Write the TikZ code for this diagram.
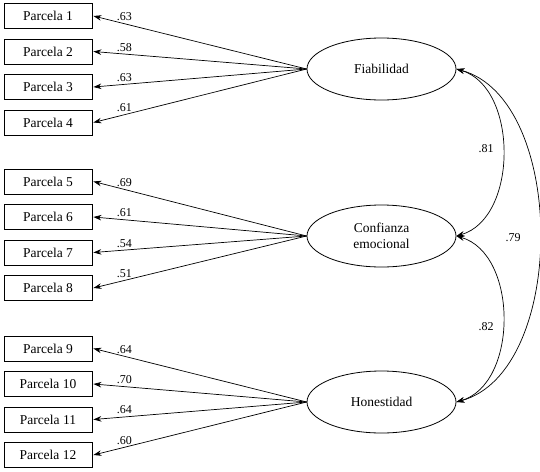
\documentclass[tikz,border=0pt]{standalone}
\usepackage{fontspec}
\setmainfont{Liberation Serif}
\usetikzlibrary{arrows.meta,shapes.geometric}
\begin{document}
\begin{tikzpicture}[x=1pt,y=-1pt,
  box/.style={draw,line width=0.8pt,minimum width=88pt,minimum height=25pt,inner sep=0pt,font=\fontsize{13.5}{15}\selectfont},
  lat/.style={draw,line width=0.8pt,ellipse,minimum width=149pt,minimum height=62pt,inner sep=0pt,align=center,font=\fontsize{13.5}{16}\selectfont},
  load/.style={line width=0.7pt,-{Stealth[length=8pt,width=5.5pt]}},
  cor/.style={line width=0.7pt,{Stealth[length=8pt,width=5.5pt]}-{Stealth[length=8pt,width=5.5pt]}},
  lab/.style={font=\fontsize{12}{13}\selectfont,inner sep=1pt}]
\useasboundingbox[fill=white] (0,0) rectangle (540,471);
% observed indicators
\foreach \i/\y in {1/16,2/51.5,3/87,4/122.5,5/181.5,6/217,7/252.5,8/288,9/348.5,10/384,11/419.5,12/455}
  \node[box] (P\i) at (48,\y) {Parcela \i};
% latent factors
\node[lat] (F) at (381.5,69) {Fiabilidad};
\node[lat] (C) at (381.5,236) {Confianza\\emocional};
\node[lat] (H) at (381.5,402) {Honestidad};
% loadings
\foreach \i/\v in {1/.63,2/.58,3/.63,4/.61}
  \draw[load] (F.west) -- node[lab,pos=0.855,above=1.5pt] {\v} ([xshift=1pt]P\i.east);
\foreach \i/\v in {5/.69,6/.61,7/.54,8/.51}
  \draw[load] (C.west) -- node[lab,pos=0.855,above=1.5pt] {\v} ([xshift=1pt]P\i.east);
\foreach \i/\v in {9/.64,10/.70,11/.64,12/.60}
  \draw[load] (H.west) -- node[lab,pos=0.855,above=1.5pt] {\v} ([xshift=1pt]P\i.east);
% correlations
\draw[cor] (F.east) .. controls +(62,18) and +(62,-18) .. (C.east);
\draw[cor] (C.east) .. controls +(62,18) and +(62,-18) .. (H.east);
\draw[cor] (F.east) .. controls +(111,30) and +(111,-30) .. (H.east);
\node[lab] (r1) at (486,149) {.81};
\node[lab] (r2) at (486,327) {.82};
\node[lab] (r3) at (513,238) {.79};
\end{tikzpicture}
\end{document}
